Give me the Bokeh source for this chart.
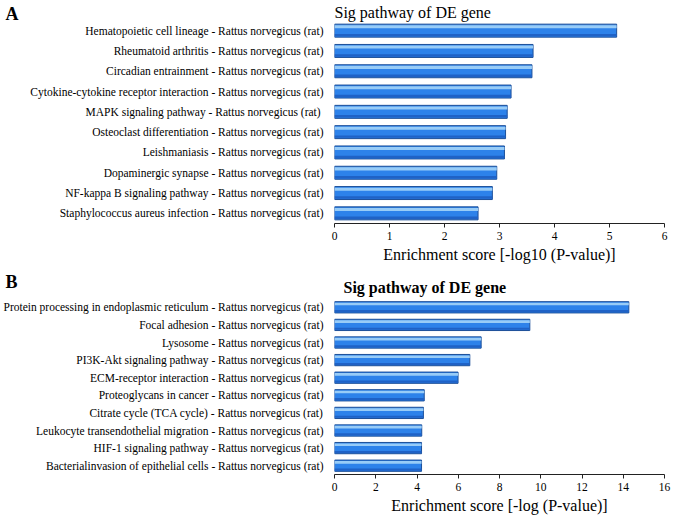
from bokeh.plotting import figure
from bokeh.models import Range1d, FactorRange, FixedTicker, Label, ColumnDataSource
from bokeh.transform import dodge
from bokeh.layouts import column
from bokeh.embed import file_html
from bokeh.resources import INLINE

# ---------------- data ----------------
pathways_a = [
    "Hematopoietic cell lineage - Rattus norvegicus (rat)",
    "Rheumatoid arthritis - Rattus norvegicus (rat)",
    "Circadian entrainment - Rattus norvegicus (rat)",
    "Cytokine-cytokine receptor interaction - Rattus norvegicus (rat)",
    "MAPK  signaling pathway - Rattus norvegicus (rat)",
    "Osteoclast differentiation - Rattus norvegicus (rat)",
    "Leishmaniasis - Rattus norvegicus (rat)",
    "Dopaminergic synapse - Rattus norvegicus (rat)",
    "NF-kappa B signaling pathway - Rattus norvegicus (rat)",
    "Staphylococcus aureus infection - Rattus norvegicus (rat)",
]
scores_a = [5.13, 3.61, 3.59, 3.21, 3.14, 3.11, 3.09, 2.95, 2.87, 2.61]
ticks_a = [0, 1, 2, 3, 4, 5, 6]

pathways_b = [
    "Protein processing in endoplasmic reticulum - Rattus norvegicus (rat)",
    "Focal adhesion - Rattus norvegicus (rat)",
    "Lysosome - Rattus norvegicus (rat)",
    "PI3K-Akt signaling pathway - Rattus norvegicus (rat)",
    "ECM-receptor interaction - Rattus norvegicus (rat)",
    "Proteoglycans in cancer - Rattus norvegicus (rat)",
    "Citrate cycle (TCA cycle) - Rattus norvegicus (rat)",
    "Leukocyte transendothelial migration - Rattus norvegicus (rat)",
    "HIF-1 signaling pathway - Rattus norvegicus (rat)",
    "Bacterialinvasion of epithelial cells - Rattus norvegicus (rat)",
]
scores_b = [14.27, 9.47, 7.11, 6.56, 5.99, 4.35, 4.31, 4.23, 4.22, 4.22]
ticks_b = [0, 2, 4, 6, 8, 10, 12, 14, 16]

SERIF = "Liberation Serif"


def make_panel(cats, vals, ticks, xlabel, title, title_bold, height,
               border_top, border_bottom, title_offset, title_standoff):
    p = figure(width=677, height=height,
               y_range=FactorRange(factors=cats[::-1]),
               x_range=Range1d(ticks[0], ticks[-1]),
               output_backend="svg", toolbar_location=None,
               min_border_left=334, min_border_right=13,
               min_border_top=border_top, min_border_bottom=border_bottom)
    p.outline_line_color = None
    p.xgrid.grid_line_color = None
    p.ygrid.grid_line_color = None

    p.title.text = title
    p.title.align = "left"
    p.title.offset = title_offset
    p.title.standoff = title_standoff
    p.title.text_font = SERIF
    p.title.text_font_size = "16px"
    p.title.text_font_style = "bold" if title_bold else "normal"
    p.title.text_color = "black"

    src = ColumnDataSource(dict(cat=cats, val=vals))
    p.hbar(y="cat", left=0, right="val", height=0.64, source=src,
           fill_color="#2d82ea", line_color="#1c4f98", line_width=1)
    p.hbar(y=dodge("cat", -0.22, range=p.y_range), left=0, right="val",
           height=0.12, source=src, fill_color="#1f62c6", line_color=None)
    p.hbar(y=dodge("cat", 0.19, range=p.y_range), left=0, right="val",
           height=0.15, source=src, fill_color="#98ccf7", line_color=None)

    ya = p.yaxis[0]
    ya.axis_line_color = None
    ya.major_tick_line_color = None
    ya.minor_tick_line_color = None
    ya.major_label_text_font = SERIF
    ya.major_label_text_font_size = "11.5px"
    ya.major_label_text_color = "black"
    ya.major_label_standoff = 5

    xa = p.xaxis[0]
    xa.ticker = FixedTicker(ticks=ticks)
    xa.axis_line_color = "#222222"
    xa.major_tick_line_color = "#222222"
    xa.major_tick_in = 0
    xa.major_tick_out = 4
    xa.minor_tick_line_color = None
    xa.major_label_text_font = SERIF
    xa.major_label_text_font_size = "11.5px"
    xa.major_label_text_color = "black"
    xa.major_label_standoff = 4
    xa.axis_label = xlabel
    xa.axis_label_text_font = SERIF
    xa.axis_label_text_font_size = "16px"
    xa.axis_label_text_font_style = "normal"
    xa.axis_label_text_color = "black"
    xa.axis_label_standoff = 3
    return p


pa = make_panel(pathways_a, scores_a, ticks_a, "Enrichment score [-log10 (P-value)]",
                "Sig pathway of DE gene", False, 265, 20, 42, 0, 0)
pb = make_panel(pathways_b, scores_b, ticks_b, "Enrichment score [-log (P-value)]",
                "Sig pathway of DE gene", True, 251, 33, 42, 9, 5)

# panel letters
pa.add_layout(Label(x=5, y=13, x_units="canvas", y_units="canvas", text="A",
                    text_font=SERIF, text_font_size="18px", text_font_style="bold",
                    text_color="black", text_baseline="alphabetic"), "left")
pb.add_layout(Label(x=5, y=16, x_units="canvas", y_units="canvas", text="B",
                    text_font=SERIF, text_font_size="18px", text_font_style="bold",
                    text_color="black", text_baseline="alphabetic"), "right")

layout = column(pa, pb)
open("out.html", "w").write(file_html(layout, INLINE))
